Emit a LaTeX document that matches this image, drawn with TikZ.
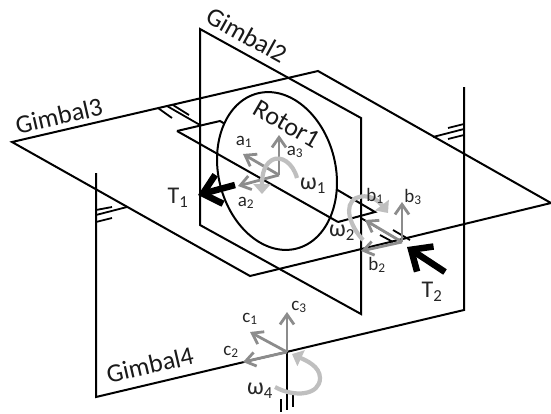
\documentclass[tikz,border=0pt]{standalone}
\usepackage{fontspec}
\setmainfont{Carlito}
\usetikzlibrary{arrows.meta,shapes.geometric}
\tikzset{
  frameline/.style={line width=2pt,black},
  tickline/.style={line width=1.8pt,black},
  axisarrow/.style={line width=2.8pt,black!45,-{Straight Barb[length=10pt,width=14pt,line width=2.8pt]}},
  spinarrow/.style={line width=4.2pt,black!25,-{Triangle[length=10pt,width=17pt]}},
  torquearrow/.style={line width=6.5pt,black,-{Straight Barb[length=17pt,width=30pt,line width=6.5pt]}},
  gimballabel/.style={font=\fontsize{26}{26}\selectfont,text=black!90},
  framelabel/.style={font=\fontsize{19}{19}\selectfont,text=black!85,inner sep=0pt},
  biglabel/.style={font=\fontsize{24}{24}\selectfont,text=black!85,inner sep=0pt}
}
\begin{document}
\begin{tikzpicture}[x=1pt,y=-1pt]
  \useasboundingbox (0,0) rectangle (551,413);

  % Gimbal4
  \draw[frameline] (96,173) -- (96,397) -- (464,310) -- (464,87);
  \draw[frameline] (287,352) -- (287,410);
  \draw[tickline] (281,399) -- (281,412);
  \draw[tickline] (293,395) -- (293,407);
  \draw[tickline] (96,210) -- (112,207);
  \draw[tickline] (96,215) -- (127,207);
  \draw[tickline] (96,222) -- (112,218);
  \draw[tickline] (448,128) -- (464,124);
  \draw[tickline] (433,137) -- (464,129);
  \draw[tickline] (448,139) -- (464,135);

  % Gimbal3
  \draw[frameline] (12,142) -- (318,71) -- (551,203) -- (250,276) -- cycle;
  \draw[tickline] (158,108) -- (172,118);
  \draw[tickline] (167,106) -- (200,125);
  \draw[tickline] (173,105) -- (189,115);
  \draw[tickline] (380,235) -- (393,242);
  \draw[tickline] (361,218) -- (402,242);
  \draw[tickline] (393,230) -- (410,240);

  % Gimbal2
  \draw[frameline] (200,29) -- (361,118) -- (361,314) -- (200,225) -- cycle;

  % Gimbal1
  \draw[frameline] (338,222) -- (375,212) -- (220,121) -- (177,131);

  % 转子
  \node[ellipse,draw,fill=white,line width=2pt,minimum width=117pt,minimum height=160pt,inner sep=0pt,rotate=14] (rotor) at (277,171) {};
  \draw[frameline] (177,131) -- (338,222);

  % 坐标系原点
  \coordinate (aO) at (279,175);
  \coordinate (bO) at (402,242);
  \coordinate (cO) at (287,352);

  % 坐标轴
  \foreach \org/\tipA/\tipB/\tipC in {aO/{243,154}/{238,186}/{279,135},bO/{365,220}/{361,251}/{402,202},cO/{250,332}/{243,362}/{287,312}} {
    \draw[axisarrow] (\org) -- (\tipA);
    \draw[axisarrow] (\org) -- (\tipB);
    \draw[axisarrow] (\org) -- (\tipC);
  }

  % 角速度
  \draw[spinarrow] (297,178) .. controls (293,163) and (281,155) .. (272,160) .. controls (262,166) and (262,180) .. (262,194);
  \draw[spinarrow] (363,240) .. controls (350,226) and (343,205) .. (356,198) .. controls (368,193) and (378,200) .. (388,213);
  \draw[spinarrow] (275,387) .. controls (295,398) and (320,395) .. (320,378) .. controls (320,366) and (305,360) .. (292,354);

  % 力矩
  \draw[torquearrow] (235,185) -- (198,195);
  \draw[torquearrow] (445,272) -- (407,247);

  % 标注
  \node[gimballabel,rotate=-29] (gimbal2) at (247,35) {Gimbal2};
  \node[gimballabel,rotate=13] (gimbal3) at (59,116) {Gimbal3};
  \node[gimballabel,rotate=13] (gimbal4) at (150,365) {Gimbal4};
  \node[gimballabel,rotate=-30] (rotor1) at (287,124) {Rotor1};
  \node[framelabel] (a1) at (244,142) {a\textsubscript{1}};
  \node[framelabel] (a2) at (246,203) {a\textsubscript{2}};
  \node[framelabel] (a3) at (295,152) {a\textsubscript{3}};
  \node[framelabel] (b1) at (375,196) {b\textsubscript{1}};
  \node[framelabel] (b2) at (377,265) {b\textsubscript{2}};
  \node[framelabel] (b3) at (413,197) {b\textsubscript{3}};
  \node[framelabel] (c1) at (250,319) {c\textsubscript{1}};
  \node[framelabel] (c2) at (231,352) {c\textsubscript{2}};
  \node[framelabel] (c3) at (299,307) {c\textsubscript{3}};
  \node[biglabel] (w1) at (313,186) {ω\textsubscript{1}};
  \node[biglabel] (w2) at (342,233) {ω\textsubscript{2}};
  \node[biglabel] (w4) at (260,391) {ω\textsubscript{4}};
  \node[biglabel] (t1) at (178,198) {T\textsubscript{1}};
  \node[biglabel] (t2) at (432,292) {T\textsubscript{2}};
\end{tikzpicture}
\end{document}
